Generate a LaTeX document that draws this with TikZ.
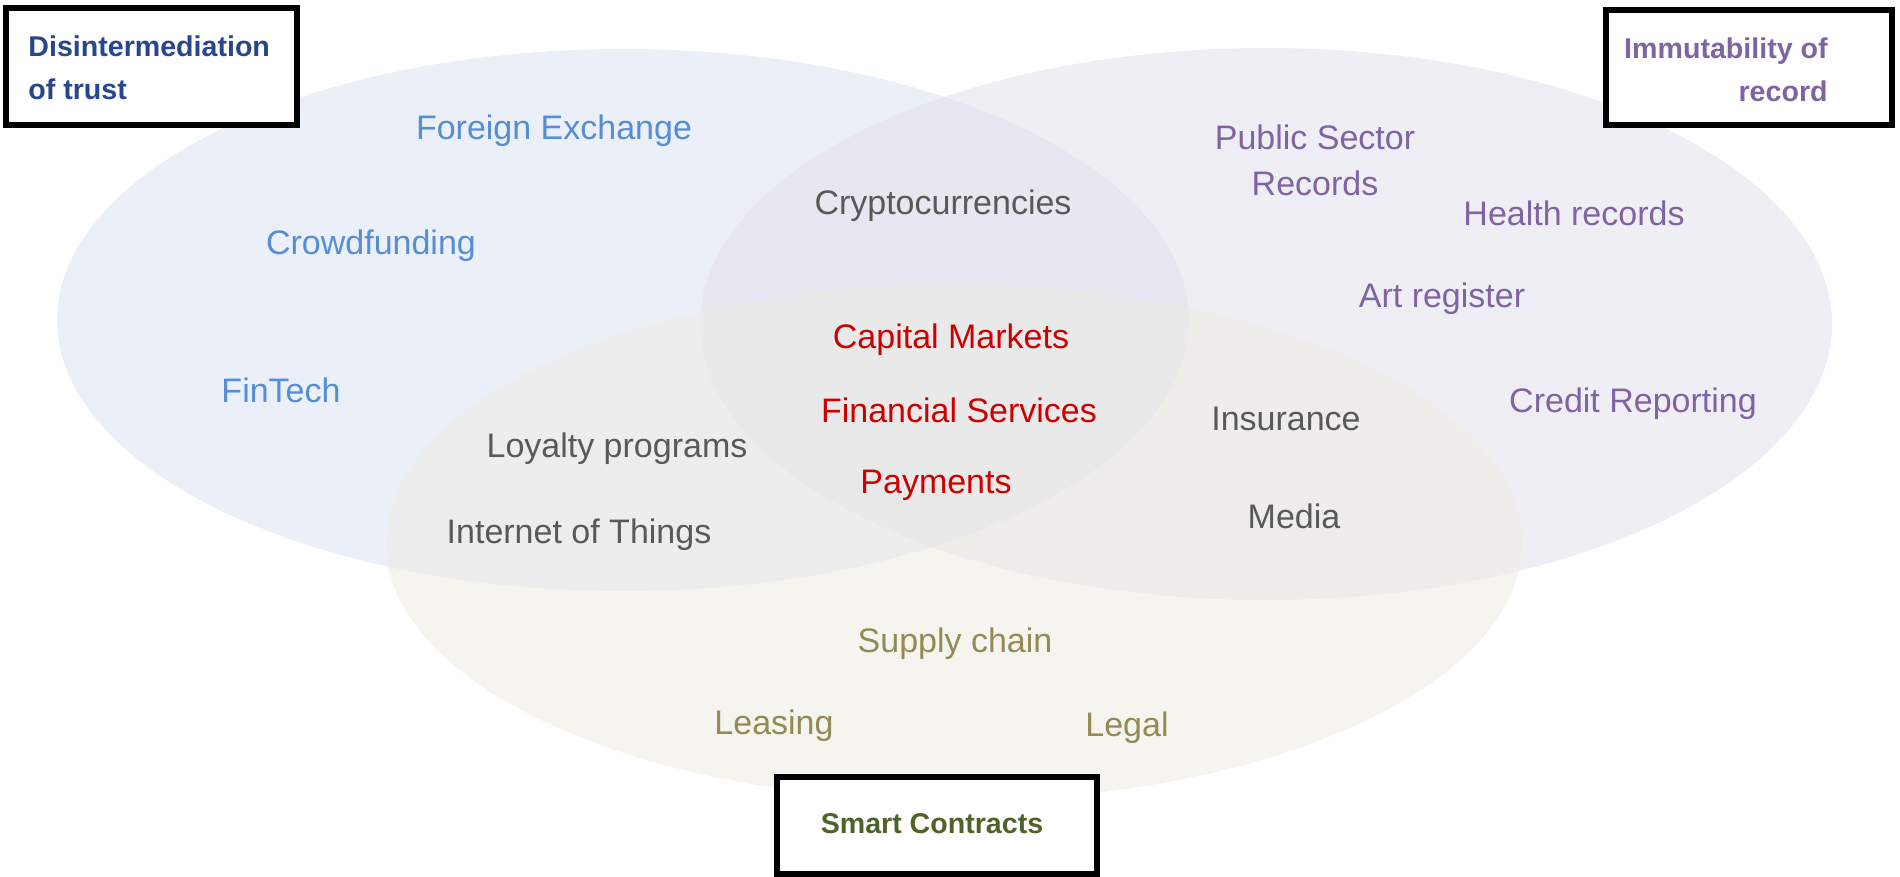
\documentclass[tikz,border=0pt]{standalone}
\usepackage{fontspec}
\setmainfont{Liberation Sans}
\definecolor{bluefill}{RGB}{235,240,248}
\definecolor{purplefill}{RGB}{228,224,237}
\definecolor{beigefill}{RGB}{237,236,227}
\definecolor{itemblue}{RGB}{85,142,213}
\definecolor{itempurple}{RGB}{128,100,162}
\definecolor{itemgray}{RGB}{89,89,89}
\definecolor{itemred}{RGB}{204,0,0}
\definecolor{itemolive}{RGB}{148,138,84}
\definecolor{labblue}{RGB}{40,70,140}
\definecolor{labpurple}{RGB}{128,100,162}
\definecolor{labolive}{RGB}{79,98,40}
\begin{document}
\begin{tikzpicture}[x=0.5pt,y=-0.5pt,
  item/.style={inner sep=0pt, anchor=base, font=\fontsize{17}{23}\selectfont},
  lab/.style={inner sep=0pt, font=\bfseries\fontsize{14.3}{21.5}\selectfont},
  framebox/.style={draw=black, line width=3pt, fill=white}]
\useasboundingbox (0,0) rectangle (1900,877);
% circles
\fill[bluefill] (623,320) ellipse [x radius=566, y radius=271];
\fill[purplefill, fill opacity=0.55] (1266,324) ellipse [x radius=566, y radius=276];
\fill[beigefill, fill opacity=0.57] (954,543) ellipse [x radius=568, y radius=258];
% frames
\draw[framebox] (6,8) rectangle (297,125);
\draw[framebox] (1606,10) rectangle (1892,125);
\draw[framebox] (777,777) rectangle (1097,874);
% labels (base anchor = baseline of last line)
\node[lab, text=labblue, align=left, anchor=base west] (lt) at (28,100) {Disintermediation\\of trust};
\node[lab, text=labpurple, align=right, anchor=base east] (lr) at (1828,102) {Immutability of\\record};
\node[lab, text=labolive, anchor=base] (lb) at (932,833) {Smart Contracts};
% blue items
\node[item, text=itemblue] (fx) at (554,140) {Foreign Exchange};
\node[item, text=itemblue] (cf) at (371,255) {Crowdfunding};
\node[item, text=itemblue] (ft) at (281,402) {FinTech};
% purple items
\node[item, text=itempurple, align=center] (ps) at (1315,196) {Public Sector\\Records};
\node[item, text=itempurple] (hr) at (1574,226) {Health records};
\node[item, text=itempurple] (ar) at (1442,307) {Art register};
\node[item, text=itempurple] (cr) at (1633,412) {Credit Reporting};
% gray items
\node[item, text=itemgray] (cc) at (943,215) {Cryptocurrencies};
\node[item, text=itemgray] (lp) at (617,457) {Loyalty programs};
\node[item, text=itemgray] (iot) at (579,543) {Internet of Things};
\node[item, text=itemgray] (ins) at (1286,430) {Insurance};
\node[item, text=itemgray] (med) at (1294,528) {Media};
% red items
\node[item, text=itemred] (cm) at (951,348) {Capital Markets};
\node[item, text=itemred] (fs) at (959,422) {Financial Services};
\node[item, text=itemred] (pay) at (936,493) {Payments};
% olive items
\node[item, text=itemolive] (sc) at (955,652) {Supply chain};
\node[item, text=itemolive] (lea) at (774,734) {Leasing};
\node[item, text=itemolive] (leg) at (1127,736) {Legal};
\end{tikzpicture}
\end{document}
